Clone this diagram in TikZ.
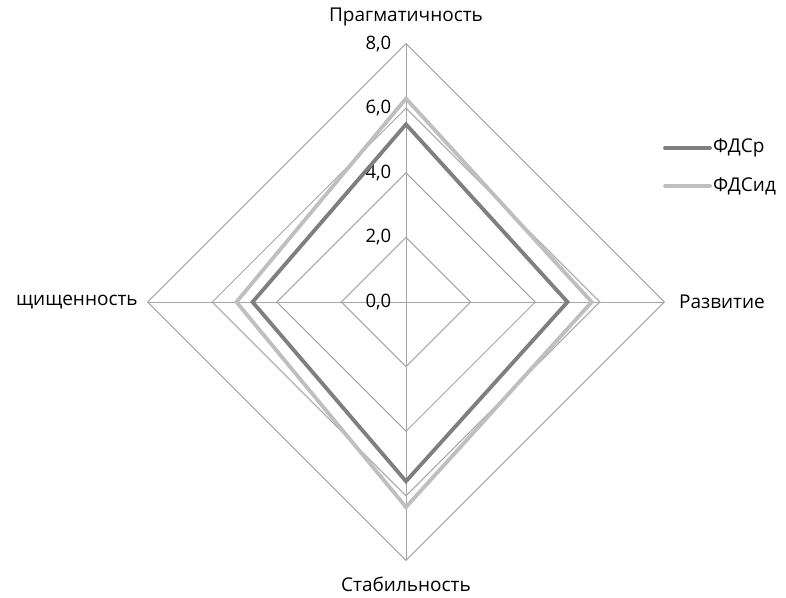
\documentclass[tikz,border=0pt]{standalone}
\usepackage{fontspec}
\setmainfont{Open Sans}
\usetikzlibrary{positioning}
\definecolor{gridgray}{HTML}{A6A6A6}
\definecolor{serdark}{HTML}{7F7F7F}
\definecolor{serlight}{HTML}{BFBFBF}
\tikzset{
  gridline/.style={gridgray, line width=1pt},
  serline/.style={line width=3.8pt, line join=miter},
  ticklabel/.style={anchor=east, inner sep=0pt, font=\fontsize{18.5}{20}\selectfont},
  axlabel/.style={inner sep=0pt, font=\fontsize{19}{22}\selectfont},
  leglabel/.style={anchor=west, inner sep=0pt, font=\fontsize{19}{22}\selectfont}
}

\begin{document}
\begin{tikzpicture}[x=1pt,y=-1pt]
\useasboundingbox (0,0) rectangle (786,597);
\begin{scope}[shift={(406,302)}, x=32.3pt, y=32.3pt]
% grid rings
\foreach \r in {2,4,6,8}
  \draw[gridline] (0,\r) -- (\r,0) -- (0,-\r) -- (-\r,0) -- cycle;
% spokes
\draw[gridline] (0,8) -- (0,-8);
\draw[gridline] (-8,0) -- (8,0);
% value labels
\foreach \r in {0,2,4,6,8}
  \node[ticklabel] (t\r) at (-0.45,\r) {\r,0};
% series
\draw[serline, serlight] (0,6.3) -- (5.75,0) -- (0,-6.35) -- (-5.25,0) -- cycle;
\draw[serline, serdark] (0,5.5) -- (5.0,0) -- (0,-5.55) -- (-4.75,0) -- cycle;
% axis names
\node[axlabel] (prag) at (0,8.83) {Прагматичность};
\node[axlabel, anchor=west] (razv) at (8.45,0) {Развитие};
\node[axlabel] (stab) at (0,-8.75) {Стабильность};
\node[axlabel, anchor=east] (zasch) at (-8.3,0) {щищенность};
\end{scope}
% legend
\coordinate (ld1) at (665,148);
\coordinate (ld2) at (710,148);
\coordinate (ll1) at (665,186);
\coordinate (ll2) at (710,186);
\draw[serline, serdark, line cap=round] (ld1) -- (ld2);
\draw[serline, serlight, line cap=round] (ll1) -- (ll2);
\node[leglabel, right=3pt of ld2] (legd) {ФДСр};
\node[leglabel, right=3pt of ll2] (legl) {ФДСид};
\end{tikzpicture}
\end{document}
